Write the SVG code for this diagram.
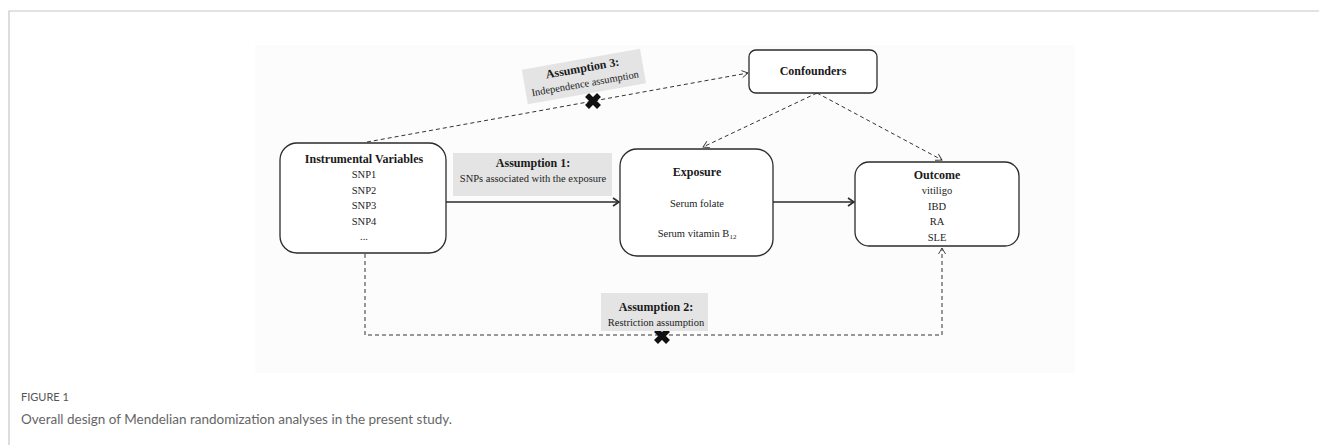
<svg xmlns="http://www.w3.org/2000/svg" width="1319" height="445" viewBox="0 0 1319 445">
<style>
.box{fill:#fff;stroke:#2b2b2b;stroke-width:1.3}
.abox{fill:#e4e4e4;stroke:none}
.t{font-family:"Liberation Serif","Times New Roman",serif;font-size:10.5px;fill:#222;text-anchor:middle}
.b{font-family:"Liberation Serif","Times New Roman",serif;font-size:12px;font-weight:bold;fill:#1a1a1a;text-anchor:middle}
.solid{fill:none;stroke:#2b2b2b;stroke-width:1.6}
.dash{fill:none;stroke:#333;stroke-width:1;stroke-dasharray:4 3}
.cap{font-family:Lato,"Open Sans",sans-serif}
</style>
<defs>
<marker id="ah" markerWidth="10" markerHeight="10" refX="8" refY="5" orient="auto" markerUnits="userSpaceOnUse">
<path d="M2,1 L8,5 L2,9" fill="none" stroke="#2b2b2b" stroke-width="1.6"/>
</marker>
<marker id="ahd" markerWidth="10" markerHeight="10" refX="8" refY="5" orient="auto" markerUnits="userSpaceOnUse">
<path d="M2,1.5 L8,5 L2,8.5" fill="none" stroke="#333" stroke-width="0.9"/>
</marker>
<g id="xmark">
<path d="M-6,-6 L6,6 M6,-6 L-6,6" stroke="#111" stroke-width="5.5"/>
</g>
</defs>
<rect x="0" y="0" width="1319" height="445" fill="#fff"/>
<path d="M9,445 L9,11 L1319,11" fill="none" stroke="#c6c6c6" stroke-width="1.2"/>
<rect x="255" y="45" width="820" height="328" fill="#fcfcfc"/>

<g id="connectors">
<path class="solid" d="M446,202 L619,202" marker-end="url(#ah)"/>
<path class="solid" d="M773,202 L854,202" marker-end="url(#ah)"/>
<path class="dash" d="M367,142 L748,73" marker-end="url(#ahd)"/>
<path class="dash" d="M817,93 L703,147" marker-end="url(#ahd)"/>
<path class="dash" d="M817,93 L942,160" marker-end="url(#ahd)"/>
<path class="dash" d="M365,254 L365,335 L942,335 L942,248" marker-end="url(#ahd)"/>
<use href="#xmark" x="593" y="101"/>
<use href="#xmark" x="662" y="336"/>
</g>

<g id="instrumental-variables">
<rect class="box" x="280" y="143" width="166" height="110" rx="17"/>
<text class="b" x="364" y="163">Instrumental Variables</text>
<text class="t" x="364" y="178">SNP1</text>
<text class="t" x="364" y="194">SNP2</text>
<text class="t" x="364" y="209">SNP3</text>
<text class="t" x="364" y="225">SNP4</text>
<text class="t" x="364" y="240">...</text>
</g>

<g id="assumption1">
<rect class="abox" x="453" y="153" width="159" height="43"/>
<text class="b" x="533" y="167">Assumption 1:</text>
<text class="t" x="533" y="182">SNPs associated with the exposure</text>
</g>

<g id="exposure">
<rect class="box" x="620" y="149" width="153" height="107" rx="17"/>
<text class="b" x="697" y="176">Exposure</text>
<text class="t" x="697" y="207">Serum folate</text>
<text class="t" x="697" y="237">Serum vitamin B<tspan font-size="7" dy="1.5">12</tspan></text>
</g>

<g id="outcome">
<rect class="box" x="855" y="162" width="164" height="84" rx="14"/>
<text class="b" x="937" y="179">Outcome</text>
<text class="t" x="937" y="194">vitiligo</text>
<text class="t" x="937" y="210">IBD</text>
<text class="t" x="937" y="225">RA</text>
<text class="t" x="937" y="241">SLE</text>
</g>

<g id="confounders">
<rect class="box" x="749" y="50" width="128" height="43" rx="7"/>
<text class="b" x="813" y="75">Confounders</text>
</g>

<g id="assumption3" transform="rotate(-10 584 77)">
<rect class="abox" x="524" y="59" width="120" height="35"/>
<text class="b" x="584" y="72">Assumption 3:</text>
<text class="t" x="584" y="87" font-size="9.5">Independence assumption</text>
</g>

<g id="assumption2">
<rect class="abox" x="601" y="293" width="107" height="38"/>
<text class="b" x="656" y="311">Assumption 2:</text>
<text class="t" x="656" y="326">Restriction assumption</text>
</g>

<g id="caption">
<text class="cap" x="21" y="401" font-size="11" fill="#555">FIGURE 1</text>
<text class="cap" x="21" y="424" font-size="13.5" fill="#666" textLength="431" lengthAdjust="spacingAndGlyphs">Overall design of Mendelian randomization analyses in the present study.</text>
</g>
</svg>
